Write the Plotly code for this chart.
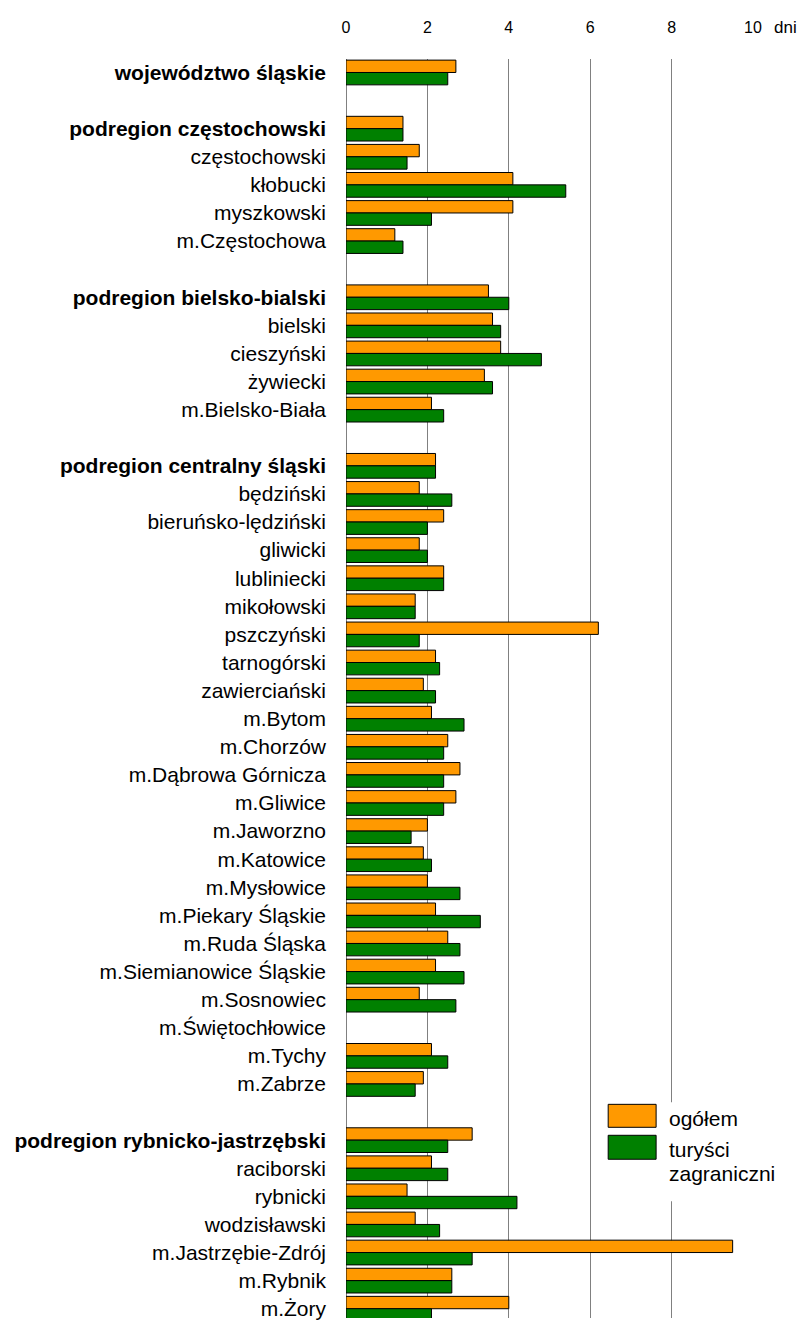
import plotly.graph_objects as go

# ---- data ----
categories = [
    "województwo śląskie", "_b1",
    "podregion częstochowski", "częstochowski", "kłobucki", "myszkowski", "m.Częstochowa", "_b2",
    "podregion bielsko-bialski", "bielski", "cieszyński", "żywiecki", "m.Bielsko-Biała", "_b3",
    "podregion centralny śląski", "będziński", "bieruńsko-lędziński", "gliwicki", "lubliniecki",
    "mikołowski", "pszczyński", "tarnogórski", "zawierciański", "m.Bytom", "m.Chorzów",
    "m.Dąbrowa Górnicza", "m.Gliwice", "m.Jaworzno", "m.Katowice", "m.Mysłowice",
    "m.Piekary Śląskie", "m.Ruda Śląska", "m.Siemianowice Śląskie", "m.Sosnowiec",
    "m.Świętochłowice", "m.Tychy", "m.Zabrze", "_b4",
    "podregion rybnicko-jastrzębski", "raciborski", "rybnicki", "wodzisławski",
    "m.Jastrzębie-Zdrój", "m.Rybnik", "m.Żory",
]
bold_labels = [
    "województwo śląskie", "podregion częstochowski", "podregion bielsko-bialski",
    "podregion centralny śląski", "podregion rybnicko-jastrzębski",
]
ogolem = [
    2.7, None,
    1.4, 1.8, 4.1, 4.1, 1.2, None,
    3.5, 3.6, 3.8, 3.4, 2.1, None,
    2.2, 1.8, 2.4, 1.8, 2.4,
    1.7, 6.2, 2.2, 1.9, 2.1, 2.5,
    2.8, 2.7, 2.0, 1.9, 2.0,
    2.2, 2.5, 2.2, 1.8,
    None, 2.1, 1.9, None,
    3.1, 2.1, 1.5, 1.7,
    9.5, 2.6, 4.0,
]
zagraniczni = [
    2.5, None,
    1.4, 1.5, 5.4, 2.1, 1.4, None,
    4.0, 3.8, 4.8, 3.6, 2.4, None,
    2.2, 2.6, 2.0, 2.0, 2.4,
    1.7, 1.8, 2.3, 2.2, 2.9, 2.4,
    2.4, 2.4, 1.6, 2.1, 2.8,
    3.3, 2.8, 2.9, 2.7,
    None, 2.5, 1.7, None,
    2.5, 2.5, 4.2, 2.3,
    3.1, 2.6, 2.1,
]
series_names = ["ogółem", "turyści zagraniczni"]
series_colors = ["#FF9900", "#008000"]
x_ticks = [0, 2, 4, 6, 8, 10]
x_unit = "dni"

ticktext = []
for c in categories:
    if c.startswith("_b"):
        ticktext.append("")
    elif c in bold_labels:
        ticktext.append("<b>" + c + "</b>")
    else:
        ticktext.append(c)

FONT = "Liberation Sans, Arial, sans-serif"

fig = go.Figure()
for name, vals, col in zip(series_names, [ogolem, zagraniczni], series_colors):
    fig.add_trace(go.Bar(
        y=categories, x=vals, orientation="h", name=name,
        marker=dict(color=col, line=dict(color="#000000", width=1)),
        showlegend=False,
    ))

fig.update_layout(
    width=798, height=1320,
    margin=dict(l=345.5, r=45, t=59, b=0, pad=0),
    paper_bgcolor="white", plot_bgcolor="white",
    barmode="group", bargap=0.12, bargroupgap=0,
    font=dict(family=FONT, color="#000000", size=21),
)
fig.update_xaxes(
    side="top", range=[0, 10], tickvals=x_ticks, ticktext=[str(v) for v in x_ticks],
    showgrid=True, gridcolor="#808080", gridwidth=1,
    zeroline=True, zerolinecolor="#808080", zerolinewidth=1,
    showline=False, ticks="", tickfont=dict(size=16, family=FONT),
    ticklabelstandoff=22, fixedrange=True,
)
fig.update_yaxes(
    type="category", categoryorder="array", categoryarray=categories,
    tickvals=categories, ticktext=ticktext,
    range=[len(categories) - 1 + 0.33, -0.48],
    showgrid=False, zeroline=False, showline=False, ticks="",
    tickfont=dict(size=21, family=FONT), ticklabelstandoff=19,
)

# unit label
fig.add_annotation(xref="paper", yref="paper", x=1.047, y=1.0254, text=x_unit,
                   showarrow=False, xanchor="left", yanchor="middle",
                   font=dict(size=17, family=FONT))

# manual legend (white box + swatches + text); positions in window pixels
def px_x(p):
    return (p - 345.5) / 407.5

def px_y(p):
    return (1320 - p) / 1261

fig.add_shape(type="rect", xref="paper", yref="paper",
              x0=px_x(600), x1=px_x(798), y0=px_y(1203), y1=px_y(1104),
              fillcolor="white", line=dict(width=0), layer="above")
fig.add_shape(type="rect", xref="paper", yref="paper",
              x0=px_x(608), x1=px_x(656), y0=px_y(1129), y1=px_y(1106),
              fillcolor=series_colors[0], line=dict(color="black", width=1), layer="above")
fig.add_shape(type="rect", xref="paper", yref="paper",
              x0=px_x(608), x1=px_x(656), y0=px_y(1161), y1=px_y(1137),
              fillcolor=series_colors[1], line=dict(color="black", width=1), layer="above")
fig.add_annotation(xref="paper", yref="paper", x=px_x(667), y=px_y(1120),
                   text="ogółem", showarrow=False, xanchor="left", yanchor="middle",
                   font=dict(size=21, family=FONT))
fig.add_annotation(xref="paper", yref="paper", x=px_x(667), y=px_y(1151),
                   text="turyści", showarrow=False, xanchor="left", yanchor="middle",
                   font=dict(size=21, family=FONT))
fig.add_annotation(xref="paper", yref="paper", x=px_x(667), y=px_y(1175),
                   text="zagraniczni", showarrow=False, xanchor="left", yanchor="middle",
                   font=dict(size=21, family=FONT))

# remove the default 8px page margin so the figure fills the 798x1320 window exactly
fig.write_html(
    "out.html",
    config={"displayModeBar": False},
    post_script="document.body.style.margin='0';document.body.style.overflow='hidden';",
)
